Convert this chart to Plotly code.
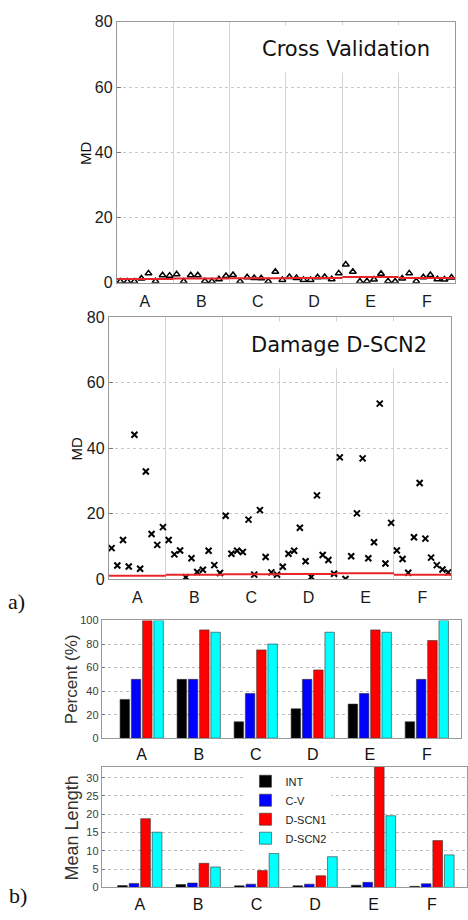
import plotly.graph_objects as go

# ---------------- data ----------------
categories = ["A", "B", "C", "D", "E", "F"]

# Cross validation MD (8 samples per class)
cv_md = [0.4, 0.4, 0.4, 1.3, 2.9, 0.5, 2.3, 2.2,
         2.6, 0.4, 2.3, 2.3, 0.5, 0.4, 1.1, 2.1,
         2.4, 0.4, 1.7, 1.5, 1.4, 0.4, 3.4, 0.9,
         1.8, 1.5, 0.9, 0.9, 1.7, 1.8, 1.1, 2.9,
         5.6, 3.4, 0.4, 0.5, 1.0, 2.8, 0.5, 0.4,
         1.3, 2.9, 0.5, 1.7, 2.4, 1.1, 1.0, 1.6]
cv_threshold = [1.2, 1.3, 1.4, 1.5, 1.8, 1.5]

# Damage D-SCN2 MD (10 samples per class)
dscn2_md = [9.5, 4.2, 12.0, 3.9, 44.1, 3.2, 32.9, 13.8, 10.5, 15.9,
            12.0, 7.6, 8.8, 0.6, 6.4, 2.2, 2.9, 8.7, 4.3, 1.9,
            19.4, 7.8, 8.7, 8.3, 18.2, 1.4, 21.1, 6.8, 2.1, 1.4,
            3.8, 7.8, 8.7, 15.7, 5.5, 0.7, 25.6, 7.4, 5.9, 1.7,
            37.2, 0.1, 7.0, 20.1, 36.9, 6.4, 11.3, 53.6, 4.8, 17.2,
            8.8, 6.2, 2.0, 12.8, 29.4, 12.4, 6.6, 4.3, 3.0, 2.1]
dscn2_threshold = [1.1, 1.4, 1.5, 1.6, 1.8, 1.4]

series_names = ["INT", "C-V", "D-SCN1", "D-SCN2"]
series_colors = ["#000000", "#0000ff", "#ff0000", "#00ffff"]

percent_int = [33, 50, 14, 25, 29, 14]
percent_cv = [50, 50, 38, 50, 38, 50]
percent_dscn1 = [100, 92, 75, 58, 92, 83]
percent_dscn2 = [100, 90, 80, 90, 90, 100]

length_int = [0.5, 0.8, 0.45, 0.45, 0.6, 0.3]
length_cv = [1.1, 1.2, 0.9, 0.9, 1.4, 1.0]
length_dscn1 = [18.8, 6.6, 4.6, 3.2, 40.0, 12.8]
length_dscn2 = [15.1, 5.6, 9.3, 8.4, 19.6, 8.9]

# ---------------- figure ----------------
W, H = 468, 920
fig = go.Figure()


def step_line(thr, n):
    xs, ys = [], []
    for k, t in enumerate(thr):
        xs += [k * n + 0.5, (k + 1) * n + 0.5, None]
        ys += [t, t, None]
    return xs, ys


# panel 1 : cross validation
n1 = len(cv_md) // len(categories)
fig.add_trace(go.Scatter(x=list(range(1, len(cv_md) + 1)), y=cv_md, mode="markers",
                         marker=dict(symbol="triangle-up-open", size=6, color="black",
                                     line=dict(width=1.5, color="black")),
                         xaxis="x", yaxis="y", showlegend=False))
tx, ty = step_line(cv_threshold, n1)
fig.add_trace(go.Scatter(x=tx, y=ty, mode="lines", line=dict(color="#e8262a", width=2),
                         xaxis="x", yaxis="y", showlegend=False))

# panel 2 : damage D-SCN2
n2 = len(dscn2_md) // len(categories)
fig.add_trace(go.Scatter(x=list(range(1, len(dscn2_md) + 1)), y=dscn2_md, mode="markers",
                         marker=dict(symbol="x-thin-open", size=6, color="black",
                                     line=dict(width=2, color="black")),
                         xaxis="x2", yaxis="y2", showlegend=False))
tx, ty = step_line(dscn2_threshold, n2)
fig.add_trace(go.Scatter(x=tx, y=ty, mode="lines", line=dict(color="#e8262a", width=2),
                         xaxis="x2", yaxis="y2", showlegend=False))

# panel 3 & 4 : bars
cat_pos = list(range(1, len(categories) + 1))
pct = [percent_int, percent_cv, percent_dscn1, percent_dscn2]
lng = [length_int, length_cv, length_dscn1, length_dscn2]
for name, col, p in zip(series_names, series_colors, pct):
    fig.add_trace(go.Bar(x=cat_pos, y=p, name=name, marker=dict(color=col, line=dict(color="#333", width=0.6)),
                         xaxis="x3", yaxis="y3", showlegend=False))
for name, col, l in zip(series_names, series_colors, lng):
    fig.add_trace(go.Bar(x=cat_pos, y=l, name=name, marker=dict(color=col, line=dict(color="#333", width=0.6)),
                         xaxis="x4", yaxis="y4", showlegend=True))

FONT = "Arial, Liberation Sans, sans-serif"
axbase = dict(showline=True, linecolor="#9a9a9a", linewidth=1, mirror=True, zeroline=False)


def px_x(a, b):
    return [a / W, b / W]


def px_y(top, bottom):
    return [1 - bottom / H, 1 - top / H]


def scatter_x(n, dom, anchor):
    total = n * len(categories)
    centers = [k * n + (n + 1) / 2 for k in range(len(categories))]
    bounds = [k * n + 0.5 for k in range(1, len(categories))]
    return dict(axbase, domain=dom, anchor=anchor, range=[0.5, total + 0.5],
                tickvals=centers, ticktext=categories, ticks="", showgrid=False,
                tickfont=dict(family=FONT, size=16, color="#1a1a1a"), ticklabelstandoff=4,
                minor=dict(tickvals=bounds, showgrid=True, gridcolor="#d4d4d4", gridwidth=1, ticks=""))


def scatter_y(dom, anchor):
    return dict(axbase, domain=dom, anchor=anchor, range=[0, 80], tickvals=[0, 20, 40, 60, 80],
                ticks="inside", ticklen=4, tickcolor="#777",
                showgrid=True, gridcolor="#c8c8c8", griddash="dot",
                tickfont=dict(family=FONT, size=16, color="#1a1a1a"))


def bar_x(dom, anchor, rng):
    return dict(axbase, domain=dom, anchor=anchor, range=rng, tickvals=cat_pos, ticktext=categories,
                ticks="", showgrid=False, ticklabelstandoff=2,
                tickfont=dict(family=FONT, size=16, color="#111"))


def bar_y(dom, anchor, rng, tv):
    return dict(axbase, domain=dom, anchor=anchor, range=rng, tickvals=tv,
                ticks="inside", ticklen=3, tickcolor="#777",
                showgrid=True, gridcolor="#bdbdbd", griddash="dot",
                tickfont=dict(family=FONT, size=11, color="#3a3a3a"))


fig.update_layout(
    width=W, height=H, margin=dict(l=0, r=0, t=0, b=0),
    paper_bgcolor="white", plot_bgcolor="white",
    barmode="group", bargap=0.21, bargroupgap=0.16,
    xaxis=scatter_x(n1, px_x(117, 456), "y"),
    yaxis=scatter_y(px_y(14, 280), "x"),
    xaxis2=scatter_x(n2, px_x(109, 452), "y2"),
    yaxis2=scatter_y(px_y(315, 582), "x2"),
    xaxis3=bar_x(px_x(102, 462), "y3", [0.3, 6.6]),
    yaxis3=bar_y(px_y(624, 744), "x3", [0, 100], [0, 20, 40, 60, 80, 100]),
    xaxis4=bar_x(px_x(102, 468), "y4", [0.35, 6.6]),
    yaxis4=bar_y(px_y(773, 896), "x4", [0, 33], [0, 5, 10, 15, 20, 25, 30]),
    legend=dict(x=246 / W, y=1 - 773 / H, xanchor="left", yanchor="top",
                bgcolor="white", borderwidth=0, tracegroupgap=0,
                font=dict(family=FONT, size=11, color="#222")),
)

ann = []


def add_text(text, x, y, size, family=FONT, angle=0, bg=None, pad=1, color="#111"):
    d = dict(text=text, x=x / W, y=1 - y / H, xref="paper", yref="paper", showarrow=False,
             xanchor="center", yanchor="middle", textangle=angle,
             font=dict(family=family, size=size, color=color), borderpad=pad)
    if bg:
        d["bgcolor"] = bg
    ann.append(d)


add_text("Cross Validation", 347, 42, 21, family="DejaVu Sans", bg="white", pad=11)
add_text("Damage D-SCN2", 340, 343, 21, family="DejaVu Sans", bg="white", pad=11)
add_text("MD", 85, 148, 15, angle=-90)
add_text("MD", 77, 449, 15, angle=-90)
add_text("Percent (%)", 72, 684, 17, angle=-90, color="#333")
add_text("Mean Length", 72, 835, 18, angle=-90, color="#333")
add_text("a)", 17, 605, 22, family="Liberation Serif, Times New Roman, serif")
add_text("b)", 18, 904, 22, family="Liberation Serif, Times New Roman, serif")
fig.update_layout(annotations=ann)

fig.write_html("out.html", config={"displayModeBar": False},
               post_script="document.body.style.margin='0';document.body.style.padding='0';"
                           "document.body.style.overflow='hidden';")
